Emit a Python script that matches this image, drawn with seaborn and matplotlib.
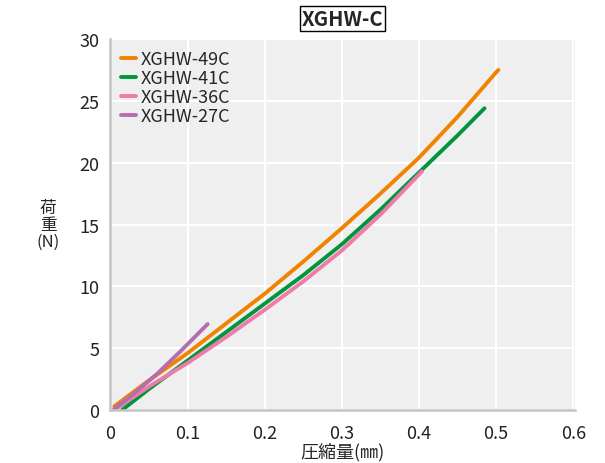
import pandas as pd
import seaborn as sns
import matplotlib.pyplot as plt

# values (compression mm -> load N)
x_49c = [0.005, 0.05, 0.1, 0.15, 0.2, 0.25, 0.3, 0.35, 0.4, 0.45, 0.5, 0.503]
y_49c = [0.3, 2.4, 4.6, 7.0, 9.4, 12.0, 14.7, 17.5, 20.4, 23.7, 27.3, 27.5]

x_41c = [0.015, 0.05, 0.1, 0.15, 0.2, 0.25, 0.3, 0.35, 0.4, 0.45, 0.485]
y_41c = [0.0, 1.7, 4.0, 6.3, 8.6, 10.9, 13.4, 16.2, 19.2, 22.2, 24.4]

x_36c = [0.005, 0.05, 0.1, 0.15, 0.2, 0.25, 0.3, 0.35, 0.404]
y_36c = [0.0, 1.9, 3.8, 5.9, 8.1, 10.4, 12.9, 15.8, 19.3]

x_27c = [0.005, 0.03, 0.06, 0.09, 0.126]
y_27c = [0.1, 1.3, 2.9, 4.7, 6.95]

names = ["XGHW-49C", "XGHW-41C", "XGHW-36C", "XGHW-27C"]
colors = ["#f08300", "#00963c", "#f07aa8", "#b46eb0"]

xs = [x_49c, x_41c, x_36c, x_27c]
ys = [y_49c, y_41c, y_36c, y_27c]

rows = []
for name, xv, yv in zip(names, xs, ys):
    for a, b in zip(xv, yv):
        rows.append({"x": a, "y": b, "model": name})
df = pd.DataFrame(rows)

sns.set_style("white")
plt.rcParams['font.family'] = ['Noto Sans CJK JP', 'DejaVu Sans']

fig = plt.figure(figsize=(6.05, 4.64), dpi=100)
ax = fig.add_axes([0.1826, 0.1142, 0.7674, 0.7996])
ax.set_facecolor("#efefef")

sns.lineplot(data=df, x="x", y="y", hue="model", palette=colors,
             hue_order=names, sort=False, estimator=None, linewidth=2.8,
             ax=ax, legend=False)
for ln in ax.lines:
    ln.set_solid_capstyle("round")
    ln.set_solid_joinstyle("round")

ax.set_xlim(0, 0.602)
ax.set_ylim(0, 30)
ax.set_xticks([0, 0.1, 0.2, 0.3, 0.4, 0.5, 0.6])
ax.set_xticklabels(["0", "0.1", "0.2", "0.3", "0.4", "0.5", "0.6"])
ax.set_yticks([0, 5, 10, 15, 20, 25, 30])
ax.grid(True, color="white", linewidth=1.5)
ax.set_axisbelow(True)
ax.tick_params(length=0, labelsize=13, colors="#222222")
ax.tick_params(axis="x", pad=10)
ax.tick_params(axis="y", pad=8)

for s in ["top", "right"]:
    ax.spines[s].set_visible(False)
for s in ["left", "bottom"]:
    ax.spines[s].set_color("#c4c4c4")
    ax.spines[s].set_linewidth(1.8)

ax.set_xlabel("圧縮量(㎜)", fontsize=13, labelpad=0)
ax.set_ylabel("荷\n重\n(N)", fontsize=12, rotation=0, linespacing=1.0,
              va="center", ha="center")
ax.yaxis.set_label_coords(-0.134, 0.5)

handles = [plt.Line2D([], [], color=c, linewidth=2.8) for c in colors]
ax.legend(handles, names, loc="upper left", frameon=False, fontsize=13,
          handlelength=0.8, handletextpad=0.3, labelspacing=0.06,
          borderaxespad=0.3, borderpad=0.3)

ax.set_title("XGHW-C", fontsize=14.5, fontweight="bold", pad=10,
             bbox=dict(facecolor="white", edgecolor="black", linewidth=1,
                       boxstyle="square,pad=0.1"))

fig.savefig("out.png", dpi=100)
